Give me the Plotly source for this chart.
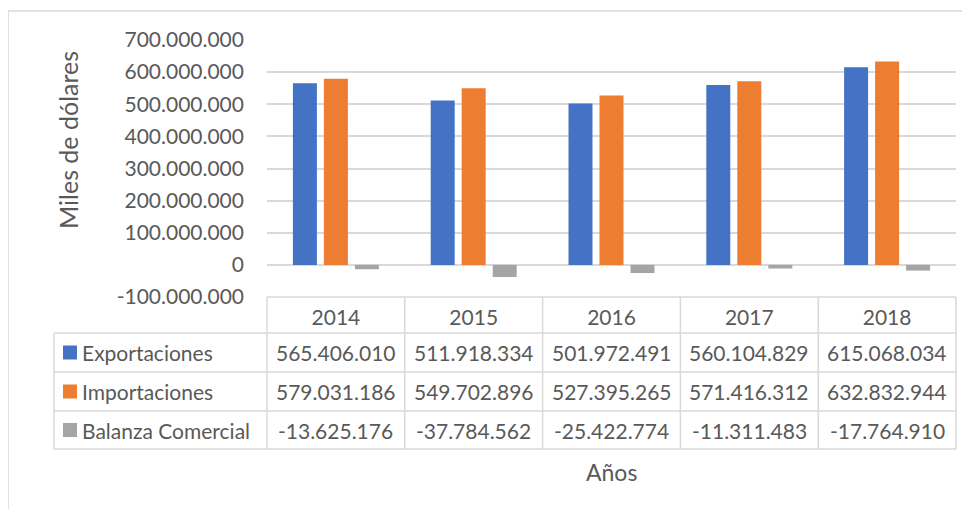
import plotly.graph_objects as go

years = ["2014", "2015", "2016", "2017", "2018"]
exportaciones = [565406010, 511918334, 501972491, 560104829, 615068034]
importaciones = [579031186, 549702896, 527395265, 571416312, 632832944]
balanza = [-13625176, -37784562, -25422774, -11311483, -17764910]
series_names = ["Exportaciones", "Importaciones", "Balanza Comercial"]
series_colors = ["#4472C4", "#ED7D31", "#A5A5A5"]
y_tick_values = [-100000000, 0, 100000000, 200000000, 300000000, 400000000,
                 500000000, 600000000, 700000000]
y_title = "Miles de dólares"
x_title = "Años"


def fmt(v):
    return f"{v:,}".replace(",", ".")


FONT = "Lato"
TXT = "#595959"
GRID = "#D9D9D9"
OFF = 8  # default page body margin
W_FIG, H_FIG = 970 - OFF, 509 - OFF
# plot area in page pixels
L, R, T, B = 267, 956, 40, 297
PW, PH = R - L, B - T


def px_x(p):
    return (p - L) / PW


def px_y(p):
    return (B - p) / PH


fig = go.Figure()
all_series = [exportaciones, importaciones, balanza]
for name, vals, col in zip(series_names, all_series, series_colors):
    fig.add_trace(go.Bar(x=years, y=vals, name=name, marker_color=col,
                         marker_line_width=0, showlegend=False))

shapes = []
annotations = []

# outer chart border
shapes.append(dict(type="rect", xref="paper", yref="paper",
                   x0=px_x(8), x1=px_x(990), y0=px_y(11), y1=px_y(540),
                   line=dict(color=GRID, width=1.5), layer="below"))

# table grid
row_lines = [333, 372, 411, 449]
shapes.append(dict(type="line", xref="paper", yref="paper",
                   x0=0, x1=1, y0=px_y(297), y1=px_y(297),
                   line=dict(color=GRID, width=1.5)))
for yl in row_lines:
    shapes.append(dict(type="line", xref="paper", yref="paper",
                       x0=px_x(54), x1=1, y0=px_y(yl), y1=px_y(yl),
                       line=dict(color=GRID, width=1.5)))
shapes.append(dict(type="line", xref="paper", yref="paper",
                   x0=px_x(54), x1=px_x(54), y0=px_y(333), y1=px_y(449),
                   line=dict(color=GRID, width=1.5)))
for xe in [0, 1]:
    shapes.append(dict(type="line", xref="paper", yref="paper",
                       x0=xe, x1=xe, y0=px_y(297), y1=px_y(449),
                       line=dict(color=GRID, width=1.5)))
for i in range(len(years) - 1):
    shapes.append(dict(type="line", xref="x", yref="paper",
                       x0=i + 0.5, x1=i + 0.5, y0=px_y(297), y1=px_y(449),
                       line=dict(color=GRID, width=1.5)))

row_centers = [352.5, 391.5, 430]
for name, vals, col, rc in zip(series_names, all_series, series_colors, row_centers):
    shapes.append(dict(type="rect", xref="paper", yref="paper",
                       x0=px_x(63), x1=px_x(77), y0=px_y(rc - 7), y1=px_y(rc + 7),
                       fillcolor=col, line=dict(width=0)))
    annotations.append(dict(x=px_x(80), y=px_y(rc), xref="paper", yref="paper",
                            text=name, showarrow=False, xanchor="left",
                            yanchor="middle",
                            font=dict(family=FONT, size=21, color=TXT)))
    for idx, v in enumerate(vals):
        annotations.append(dict(x=idx, y=px_y(rc), xref="x", yref="paper",
                                text=fmt(v), showarrow=False, xanchor="center",
                                yanchor="middle",
                                font=dict(family=FONT, size=21, color=TXT)))

annotations.append(dict(x=px_x(68), y=px_y(140), xref="paper", yref="paper",
                        text=y_title, textangle=-90, showarrow=False,
                        xanchor="center", yanchor="middle",
                        font=dict(family=FONT, size=25, color=TXT)))
annotations.append(dict(x=0.5, y=px_y(472), xref="paper", yref="paper",
                        text=x_title, showarrow=False,
                        xanchor="center", yanchor="middle",
                        font=dict(family=FONT, size=23, color=TXT)))

fig.update_layout(
    width=W_FIG, height=H_FIG,
    margin=dict(l=L - OFF, r=W_FIG - (R - OFF), t=T - OFF,
                b=H_FIG - (B - OFF), pad=0),
    paper_bgcolor="white", plot_bgcolor="white",
    barmode="group", bargap=0.325, bargroupgap=0.226,
    font=dict(family=FONT, size=21, color=TXT),
    shapes=shapes, annotations=annotations,
    xaxis=dict(type="category", categoryorder="array", categoryarray=years,
               range=[-0.5, len(years) - 0.5], autorange=False,
               showgrid=False, showline=False, ticks="",
               ticklabelstandoff=6,
               tickfont=dict(family=FONT, size=21, color=TXT)),
    yaxis=dict(range=[-100000000, 700000000], autorange=False,
               tickvals=y_tick_values,
               ticktext=[fmt(v) for v in y_tick_values],
               showgrid=True, gridcolor=GRID, gridwidth=1.5,
               zeroline=True, zerolinecolor=GRID, zerolinewidth=1.5,
               showline=False, ticks="", ticklabelstandoff=22,
               tickfont=dict(family=FONT, size=21, color=TXT)),
)

fig.write_html("out.html")
